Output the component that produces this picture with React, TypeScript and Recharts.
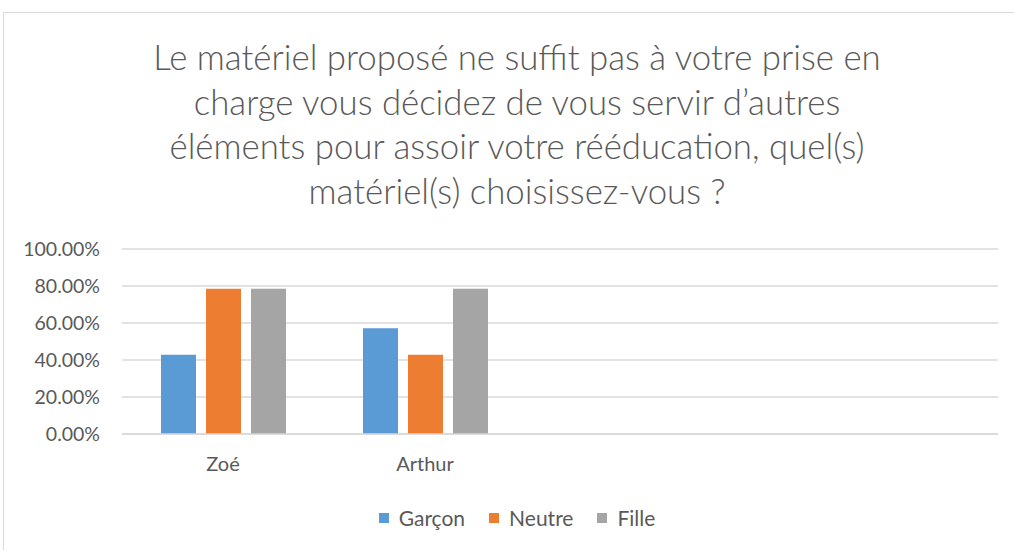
import React from "react";
import { BarChart, Bar, XAxis, YAxis, CartesianGrid } from "recharts";

const categories = ["Zoé", "Arthur", " ", "  "];
const garcon = [42.86, 57.14, null, null];
const neutre = [78.57, 42.86, null, null];
const fille = [78.57, 78.57, null, null];
const yTicks = [0, 20, 40, 60, 80, 100];
const seriesNames = ["Garçon", "Neutre", "Fille"];
const seriesColors = ["#5B9BD5", "#ED7D31", "#A5A5A5"];
const titleLines = [
  "Le matériel proposé ne suffit pas à votre prise en",
  "charge vous décidez de vous servir d’autres",
  "éléments pour assoir votre rééducation, quel(s)",
  "matériel(s) choisissez-vous ?",
];

const data = categories.map((c, i) => ({
  name: c,
  Garçon: garcon[i],
  Neutre: neutre[i],
  Fille: fille[i],
}));

const FONT = "Lato, 'Open Sans', sans-serif";
const TEXT = "#595959";

const XTick = (props: any) => {
  const { x, y, payload } = props;
  return (
    <text x={x} y={y} dy={29} textAnchor="middle" fill={TEXT} fontSize={20} fontFamily={FONT}>
      {payload.value}
    </text>
  );
};

const LegendContent = () => (
  <div style={{ display: "flex", justifyContent: "center", fontFamily: FONT, fontSize: 21, color: TEXT }}>
    {seriesNames.map((n, i) => (
      <div key={n} style={{ display: "flex", alignItems: "center", marginRight: i < 2 ? 24 : 0 }}>
        <span style={{ width: 10, height: 10, background: seriesColors[i], display: "inline-block", marginRight: 10 }} />
        <span>{n}</span>
      </div>
    ))}
  </div>
);

export default function App() {
  return (
    <div style={{ position: "absolute", left: 0, top: 0, width: 1014, height: 550, overflow: "hidden", background: "#fff" }}>
      <div style={{ position: "absolute", left: 3, top: 12, width: 1100, height: 700, border: "1px solid #D9D9D9", boxSizing: "border-box" }} />
      <div
        style={{
          position: "absolute",
          left: 0,
          top: 35,
          width: 1034,
          textAlign: "center",
          fontFamily: FONT,
          fontSize: 34.8,
          fontWeight: 300,
          lineHeight: "44.5px",
          color: TEXT,
        }}
      >
        {titleLines.map((l) => (
          <div key={l}>{l}</div>
        ))}
      </div>
      <div style={{ position: "absolute", left: 0, top: 0 }}>
        <BarChart
          width={1014}
          height={550}
          data={data}
          margin={{ top: 249, right: 16, bottom: 86, left: 0 }}
          barCategoryGap={39}
          barGap={10}
        >
          <CartesianGrid vertical={false} stroke="#D9D9D9" strokeWidth={1.5} />
          <XAxis
            dataKey="name"
            height={30}
            tickLine={false}
            axisLine={{ stroke: "#D9D9D9", strokeWidth: 1.5 }}
            padding={{ left: 0, right: 68 }}
            tick={<XTick />}
            interval={0}
          />
          <YAxis
            width={122}
            domain={[0, 100]}
            ticks={yTicks}
            tickFormatter={(v: number) => v.toFixed(2) + "%"}
            axisLine={false}
            tickLine={false}
            tickSize={0}
            tickMargin={22}
            tick={{ fill: TEXT, fontSize: 19.5, fontFamily: FONT }}
          />
          {seriesNames.map((n, i) => (
            <Bar key={n} dataKey={n} fill={seriesColors[i]} isAnimationActive={false} />
          ))}
        </BarChart>
      </div>
      <div style={{ position: "absolute", left: 0, top: 505, width: 1034 }}>
        <LegendContent />
      </div>
    </div>
  );
}
